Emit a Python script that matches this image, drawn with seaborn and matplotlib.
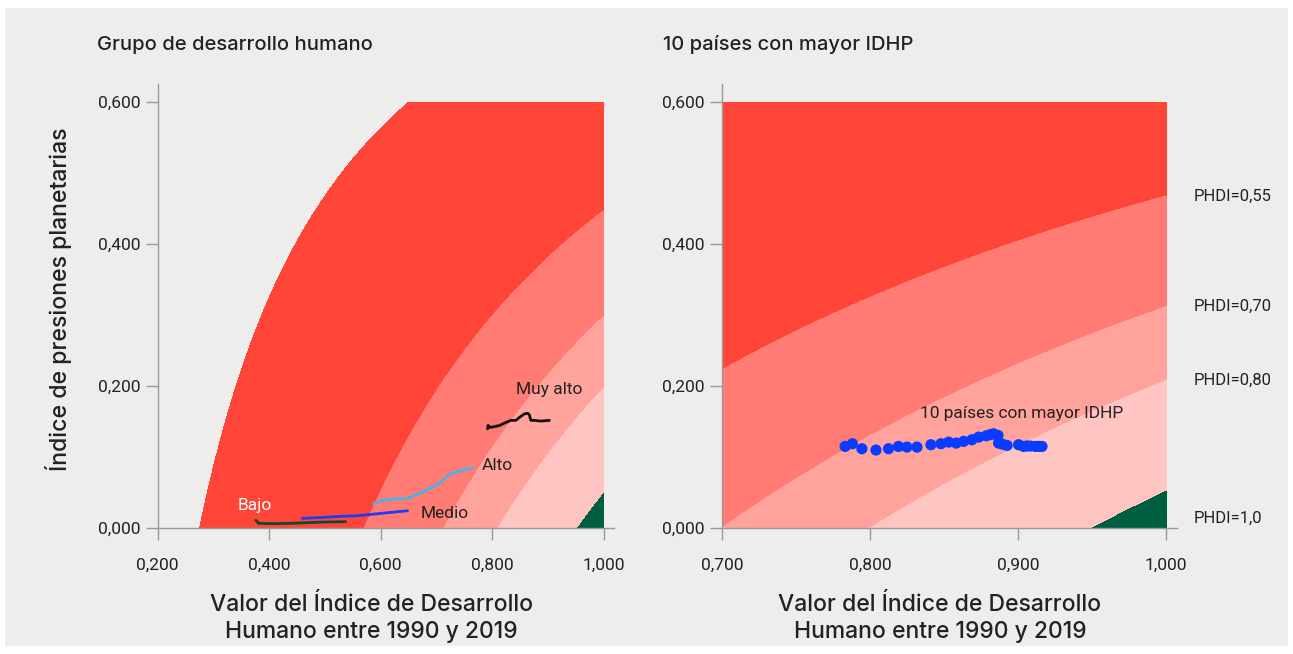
import numpy as np
import matplotlib
matplotlib.use("Agg")
import matplotlib.pyplot as plt
from matplotlib import font_manager
from matplotlib.patches import Rectangle
from matplotlib.ticker import FuncFormatter
import seaborn as sns

# ---------------------------------------------------------------------------
# Data: HDI (x) and planetary pressures index (y), 1990-2019
# ---------------------------------------------------------------------------
bajo_hdi = [0.376, 0.381, 0.408, 0.438, 0.468, 0.498, 0.537]
bajo_ppi = [0.0112, 0.0070, 0.0065, 0.0070, 0.0079, 0.0088, 0.0093]

medio_hdi = [0.459, 0.498, 0.528, 0.558, 0.588, 0.618, 0.648]
medio_ppi = [0.0140, 0.0154, 0.0168, 0.0177, 0.0200, 0.0224, 0.0247]

alto_hdi = [0.5876, 0.5997, 0.6237, 0.6477, 0.6717, 0.7016, 0.7256, 0.7436, 0.7556, 0.7646]
alto_ppi = [0.0350, 0.0387, 0.0415, 0.0420, 0.0499, 0.0616, 0.0771, 0.0807, 0.0841, 0.0849]

muy_alto_hdi = [0.7915, 0.7925, 0.7965, 0.8124, 0.8214, 0.8334, 0.8424, 0.8484,
                0.8574, 0.8634, 0.8664, 0.8694, 0.8754, 0.8874, 0.9024]
muy_alto_ppi = [0.140, 0.145, 0.142, 0.1446, 0.148, 0.152, 0.152, 0.156,
                0.161, 0.162, 0.160, 0.152, 0.152, 0.151, 0.152]

top10_hdi = [0.7833, 0.7882, 0.7946, 0.8041, 0.8126, 0.8193, 0.8250, 0.8318,
             0.8412, 0.8480, 0.8531, 0.8583, 0.8633, 0.8689, 0.8734, 0.8786,
             0.8815, 0.8835, 0.8865, 0.8869, 0.8895, 0.8926, 0.9004, 0.9038,
             0.9060, 0.9083, 0.9117, 0.9140, 0.9162]
top10_ppi = [0.1153, 0.1191, 0.1121, 0.1102, 0.1121, 0.1153, 0.1144, 0.1144,
             0.1177, 0.1191, 0.1214, 0.1200, 0.1224, 0.1247, 0.1284, 0.1303,
             0.1320, 0.1331, 0.1308, 0.1200, 0.1185, 0.1167, 0.1177, 0.1153,
             0.1160, 0.1158, 0.1153, 0.1153, 0.1153]

# PHDI iso-levels that bound the coloured bands
left_levels = [0.275, 0.57, 0.713, 0.81, 0.953]
right_levels = [0.55, 0.70, 0.80, 0.95]
phdi_labels = ["PHDI=0,55", "PHDI=0,70", "PHDI=0,80", "PHDI=1,0"]
phdi_label_levels = [0.55, 0.70, 0.80, 1.0]

# Pressures index is rescaled so that PHDI = HDI * (1 - P / PRESSURE_SCALE)
PRESSURE_SCALE = 1.04

# ---------------------------------------------------------------------------
# Style
# ---------------------------------------------------------------------------
BG = "#EEEDEB"
BAND_COLORS = ["#FF4538", "#FF7B73", "#FFA39C", "#FFC5C2", "#005E40"]
AXIS_GRAY = "#9A9A9A"
TEXT = "#222222"

sns.set_theme(style="white")
names = {f.name for f in font_manager.fontManager.ttflist}
NARROW = "Liberation Sans Narrow" if "Liberation Sans Narrow" in names else "Roboto"
GEOM = "Inter" if "Inter" in names else "DejaVu Sans"
plt.rcParams["font.family"] = [NARROW, "DejaVu Sans"]

fig = plt.figure(figsize=(12.93, 6.54), dpi=100, facecolor="white")
fig.patches.append(Rectangle((5 / 1293, 8 / 654), 1283 / 1293, 638 / 654,
                             transform=fig.transFigure, facecolor=BG,
                             edgecolor="none", zorder=-10))

ax_l = fig.add_axes([0.1220, 0.1922, 0.3527, 0.6786])
ax_r = fig.add_axes([0.5582, 0.1922, 0.3517, 0.6786])

YMAX = 0.6


def phdi_surface(xmin, xmax):
    h = np.linspace(xmin, xmax, 700)
    p = np.linspace(0, YMAX, 700)
    H, P = np.meshgrid(h, p)
    return H, P, H * (1 - P / PRESSURE_SCALE)


def pressure_at(hdi, phdi):
    return PRESSURE_SCALE * (1 - phdi / hdi)


fmt = FuncFormatter(lambda v, _: f"{v:.3f}".replace(".", ","))

for ax in (ax_l, ax_r):
    ax.set_facecolor("none")
    for side in ("top", "right"):
        ax.spines[side].set_visible(False)
    for side in ("left", "bottom"):
        ax.spines[side].set_color(AXIS_GRAY)
        ax.spines[side].set_linewidth(1.0)
    ax.set_ylim(0, 0.625)
    ax.set_yticks([0, 0.2, 0.4, 0.6])
    ax.yaxis.set_major_formatter(fmt)
    ax.xaxis.set_major_formatter(fmt)
    ax.tick_params(axis="both", direction="out", length=8.4, width=1.0,
                   color=AXIS_GRAY, labelcolor=TEXT, labelsize=12.5, left=True,
                   bottom=True)
    ax.tick_params(axis="x", pad=12.5)
    ax.tick_params(axis="y", pad=4)
    ax.grid(False)

# Left panel: development groups
H, P, Z = phdi_surface(0.2, 1.0)
ax_l.contourf(H, P, Z, levels=left_levels + [1.01], colors=BAND_COLORS, zorder=1)
ax_l.set_xlim(0.2, 1.018)
ax_l.set_xticks([0.2, 0.4, 0.6, 0.8, 1.0])

group_lines = [
    (bajo_hdi, bajo_ppi, "#0E4A2C"),
    (medio_hdi, medio_ppi, "#1F3CF5"),
    (alto_hdi, alto_ppi, "#49B2E6"),
    (muy_alto_hdi, muy_alto_ppi, "#111111"),
]
for xs, ys, c in group_lines:
    sns.lineplot(x=xs, y=ys, ax=ax_l, color=c, linewidth=2.0, sort=False,
                 estimator=None, zorder=3)

ann = dict(fontsize=12.5, va="center", ha="left", zorder=4)
ax_l.text(0.3426, 0.0327, "Bajo", color="white", **ann)
ax_l.text(0.6716, 0.0214, "Medio", color=TEXT, **ann)
ax_l.text(0.7813, 0.0887, "Alto", color=TEXT, **ann)
ax_l.text(0.8424, 0.1952, "Muy alto", color=TEXT, **ann)

# Right panel: ten countries with the highest PHDI
H, P, Z = phdi_surface(0.7, 1.0)
ax_r.contourf(H, P, Z, levels=[0.0] + right_levels + [1.01], colors=BAND_COLORS,
              zorder=1)
ax_r.set_xlim(0.7, 1.007)
ax_r.set_xticks([0.7, 0.8, 0.9, 1.0])
sns.scatterplot(x=top10_hdi, y=top10_ppi, ax=ax_r, color="#0A3CFF", s=65,
                edgecolor="none", linewidth=0, zorder=3)
ax_r.text(0.834, 0.1617, "10 países con mayor IDHP", color=TEXT, **ann)

for lab, lev in zip(phdi_labels, phdi_label_levels):
    y = pressure_at(1.0, lev)
    ax_r.annotate(lab, xy=(1.0183, y), xycoords="data", xytext=(0, 7 if lev >= 1 else 0),
                  textcoords="offset points", fontsize=12, color=TEXT,
                  ha="left", va="center", annotation_clip=False)

# Axis labels and panel titles
xlabel = "Valor del Índice de Desarrollo\nHumano entre 1990 y 2019"
for ax, cx in ((ax_l, 0.468), (ax_r, 0.480)):
    ax.set_xlabel(xlabel, family=[GEOM, "DejaVu Sans"], fontsize=16.5, color=TEXT,
                  fontweight="medium", linespacing=1.3)
    ax.xaxis.set_label_coords(cx, -0.147)

ax_l.set_ylabel("Índice de presiones planetarias", family=[GEOM, "DejaVu Sans"],
                fontsize=16.6, color=TEXT, fontweight="medium")
ax_l.yaxis.set_label_coords(-0.188, 0.517)

fig.text(97 / 1293, 1 - 45 / 654, "Grupo de desarrollo humano",
         family=[GEOM, "DejaVu Sans"], fontsize=14.5, color=TEXT, va="center",
         fontweight="medium")
fig.text(663 / 1293, 1 - 45 / 654, "10 países con mayor IDHP",
         family=[GEOM, "DejaVu Sans"], fontsize=14.5, color=TEXT, va="center",
         fontweight="medium")

fig.savefig("out.png", dpi=100, facecolor="white")
